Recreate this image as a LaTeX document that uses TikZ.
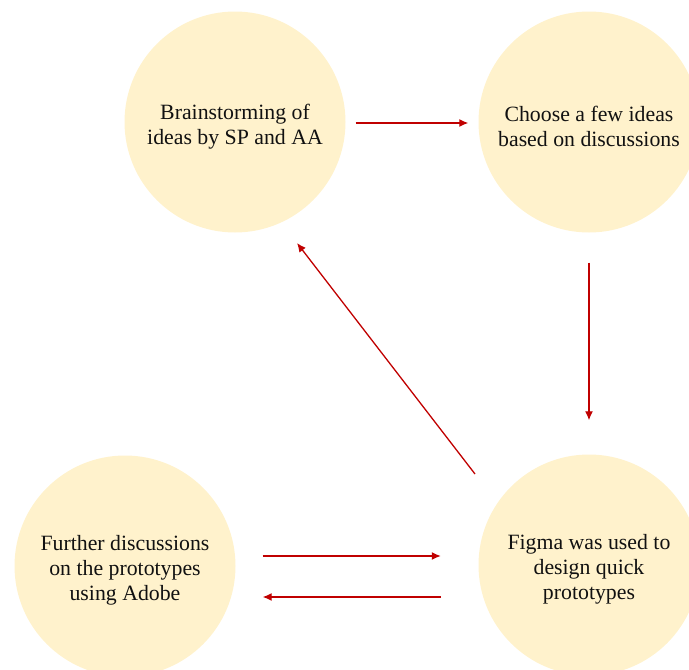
\documentclass[tikz,border=0pt]{standalone}
\usepackage{fontspec}
\setmainfont{Liberation Serif}
\usetikzlibrary{arrows.meta,calc}
\definecolor{bub}{HTML}{FFF2CC}
\definecolor{arr}{HTML}{C00000}
\definecolor{txt}{HTML}{111111}
\newcommand{\tstrutx}{\rule{0pt}{24pt}}
\begin{document}
\begin{tikzpicture}[x=1pt,y=-1pt,
  bubble/.style={circle,fill=bub,minimum size=221pt,inner sep=0pt,align=center,text=txt,font=\fontsize{21.8}{25}\selectfont},
  link/.style={draw=arr,line width=1.3pt,-{Latex[length=9pt,width=8pt]}}]
\useasboundingbox (0,0) rectangle (689,670);
\node[bubble] (b1) at (235,122) {\tstrutx Brainstorming of\\ideas by SP and AA};
\node[bubble] (b2) at (589,122) {\tstrutx Choose a few ideas\\based on discussions};
\node[bubble] (b3) at (125,566) {\tstrutx Further discussions\\on the prototypes\\using Adobe};
\node[bubble] (b4) at (589,565) {\tstrutx Figma was used to\\design quick\\prototypes};
\draw[link] ($(b1.east)+(10,1)$) -- ($(b2.west)+(-10,1)$);
\draw[link] ($(b2.south)+(0,30)$) -- ($(b4.north)+(0,-34)$);
\draw[link] ($(b4.center)+(-114,-91)$) -- ($(b1.center)+(62,121)$);
\draw[link] ($(b3.east)+(27,-10)$) -- ($(b4.west)+(-37.5,-9)$);
\draw[link] ($(b4.west)+(-37.5,32)$) -- ($(b3.east)+(27,31)$);
\end{tikzpicture}
\end{document}
